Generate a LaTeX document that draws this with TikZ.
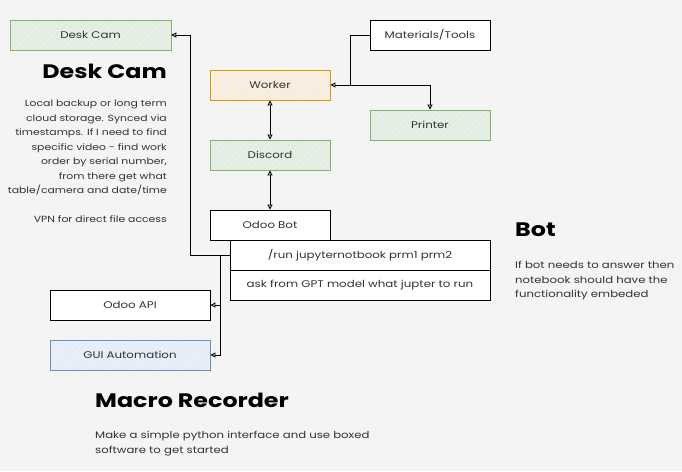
\documentclass[tikz,border=0pt]{standalone}
\usepackage{fontspec}
\setmainfont{Poppins}[FakeStretch=1.22]
\usetikzlibrary{arrows.meta,patterns.meta}
\definecolor{bgc}{HTML}{F4F4F4}
\definecolor{txt}{HTML}{333333}
\definecolor{gstroke}{HTML}{82B366}
\definecolor{gfill}{HTML}{D5E8D4}
\definecolor{ostroke}{HTML}{D79B00}
\definecolor{ofill}{HTML}{FFE6CC}
\definecolor{bstroke}{HTML}{6C8EBF}
\definecolor{bfill}{HTML}{DAE8FC}
\tikzset{
  basebox/.style={draw, line width=0.9pt, inner sep=0pt, text=txt,
    font=\fontsize{9.7}{11}\selectfont},
  plainbox/.style={basebox, fill=white},
  greenbox/.style={basebox, draw=gstroke, preaction={fill=gfill!45!bgc},
    pattern={Lines[angle=45,distance=4pt,line width=0.5pt]}, pattern color=gfill},
  orangebox/.style={basebox, draw=ostroke, preaction={fill=ofill!45!bgc},
    pattern={Lines[angle=45,distance=4pt,line width=0.5pt]}, pattern color=ofill},
  bluebox/.style={basebox, draw=bstroke, preaction={fill=bfill!45!bgc},
    pattern={Lines[angle=45,distance=4pt,line width=0.5pt]}, pattern color=bfill},
  conn/.style={draw, line width=0.9pt, -{Triangle[open,length=5pt,width=5pt]}},
  dconn/.style={draw, line width=0.9pt, {Triangle[open,length=5pt,width=5pt]}-{Triangle[open,length=5pt,width=5pt]}},
  title/.style={font=\fontsize{19.5}{22}\selectfont\bfseries, text=black, inner sep=0pt},
  body/.style={font=\fontsize{9.6}{14.5}\selectfont, text=txt, inner sep=0pt},
  smallbody/.style={font=\fontsize{8.9}{14.5}\selectfont, text=txt, inner sep=0pt}
}
\begin{document}
\begin{tikzpicture}[x=1pt,y=-1pt]
\fill[bgc] (0,0) rectangle (682,471);
\useasboundingbox (0,0) rectangle (682,471);

% nodes
\node[greenbox, minimum width=161pt, minimum height=30pt] (deskcam) at (90.5,35) {Desk Cam};
\node[orangebox, minimum width=120pt, minimum height=30pt] (worker) at (270,85) {Worker};
\node[plainbox, minimum width=120pt, minimum height=30pt] (mat) at (430,35) {Materials/Tools};
\node[greenbox, minimum width=120pt, minimum height=30pt] (printer) at (430,125) {Printer};
\node[greenbox, minimum width=120pt, minimum height=30pt] (discord) at (270,155) {Discord};
\node[plainbox, minimum width=120pt, minimum height=30pt] (odoobot) at (270,225) {Odoo Bot};
\node[plainbox, minimum width=160pt, minimum height=30pt] (api) at (130,305) {Odoo API};
\node[bluebox, minimum width=160pt, minimum height=30pt] (gui) at (130,355) {GUI Automation};

% connectors
\coordinate (j1) at (350,85);
\coordinate (c1) at (190,35);
\coordinate (j2) at (220,255);
\draw[conn] (mat.west) -| (j1) -- (worker.east);
\draw[conn] (j1) -| (printer.north);
\draw[dconn] (worker.south) -- (discord.north);
\draw[dconn] (discord.south) -- (odoobot.north);
\draw[conn] (230,255) -| (c1) -- (deskcam.east);
\draw[conn] (j2) |- (api.east);
\draw[conn] (j2) |- (gui.east);

\node[plainbox, minimum width=260pt, minimum height=30pt] (run) at (360,255) {/run jupyternotbook prm1 prm2};
\node[plainbox, minimum width=260pt, minimum height=30pt] (ask) at (360,285) {ask from GPT model what jupter to run};

% texts
\node[title, anchor=east] (tdesk) at (167,71) {Desk Cam};
\node[smallbody, anchor=north east, align=right] (ddesk) at (167,100) {Local backup or long term\\cloud storage. Synced via\\timestamps. If I need to find\\specific video - find work\\order by serial number,\\from there get what\\table/camera and date/time\\[14.5pt]VPN for direct file access};
\node[title, anchor=west] (tbot) at (515,230) {Bot};
\node[body, anchor=north west, align=left] (dbot) at (515,261) {If bot needs to answer then\\notebook should have the\\functionality embeded};
\node[title, anchor=west] (tmacro) at (95,400) {Macro Recorder};
\node[body, anchor=north west, align=left] (dmacro) at (95,431) {Make a simple python interface and use boxed\\software to get started};
\end{tikzpicture}
\end{document}
